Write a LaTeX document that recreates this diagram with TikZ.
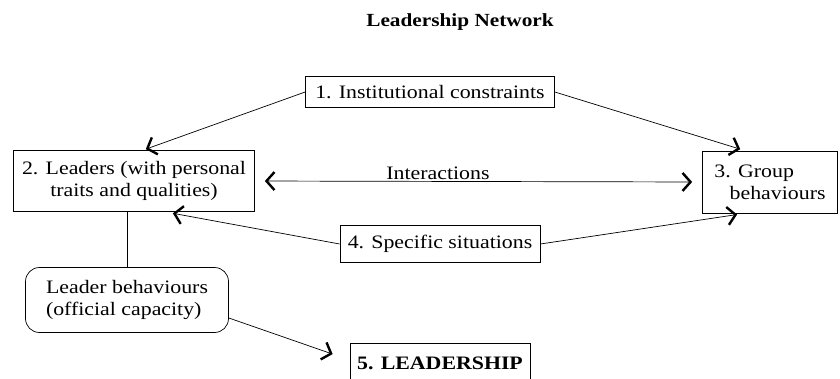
\documentclass[tikz,border=0pt]{standalone}
\usepackage{fontspec}
\setmainfont{Liberation Serif}[FakeStretch=1.15]
\usetikzlibrary{arrows.meta}

\begin{document}
\begin{tikzpicture}[x=1pt,y=-1pt,
    every node/.style={font=\fontsize{19}{22}\selectfont},
    box/.style={draw,line width=0.7pt,inner sep=0pt},
    barb/.tip={Straight Barb[length=8pt,width=18pt,line width=2.4pt]},
    leadarrow/.style={line width=0.7pt,-barb}]
    \useasboundingbox (0,0) rectangle (840,378);
    \clip (0,0) rectangle (840,378);
    \node[font=\fontsize{18.5}{22}\selectfont\bfseries] (title) at (460,22) {Leadership Network};
    \node[box,minimum width=249pt,minimum height=31pt] (inst) at (430,92) {1. Institutional constraints};
    \node[box,minimum width=241pt,minimum height=61pt,align=center] (leaders) at (134,181) {2. Leaders (with personal\\traits and qualities)};
    \node[box,minimum width=135pt,minimum height=62pt,align=left] (group) at (770,182) {3. Group\\\hspace*{0.8em}behaviours};
    \node[box,minimum width=200pt,minimum height=37pt] (spec) at (440,244) {4. Specific situations};
    \node[box,rounded corners=14pt,minimum width=203pt,minimum height=65pt,align=left] (behav) at (127,300) {Leader behaviours\\(official capacity)};
    \node[box,minimum width=180pt,minimum height=40pt,font=\fontsize{19}{22}\selectfont\bfseries] (lead) at (440,363) {5. LEADERSHIP};
    \node[anchor=base] (inter) at (438,179) {Interactions};
    \draw[leadarrow,shorten >=3pt] (inst.west) -- ([xshift=9pt]leaders.north);
    \draw[leadarrow,shorten >=5pt] (inst.east) -- ([xshift=-25pt]group.north);
    \draw[line width=0.7pt,barb-barb,shorten <=10pt,shorten >=10pt] (leaders.east) -- (group.west);
    \draw[leadarrow,shorten >=8pt] (spec.west) -- ([xshift=31pt]leaders.south);
    \draw[leadarrow,shorten >=8pt] (spec.east) -- ([xshift=-25pt]group.south);
    \draw[line width=0.7pt] (leaders.south -| behav.north) -- (behav.north);
    \draw[leadarrow,shorten >=18pt] ([yshift=-18pt]behav.east) -- ([yshift=3pt]lead.west);
\end{tikzpicture}
\end{document}
